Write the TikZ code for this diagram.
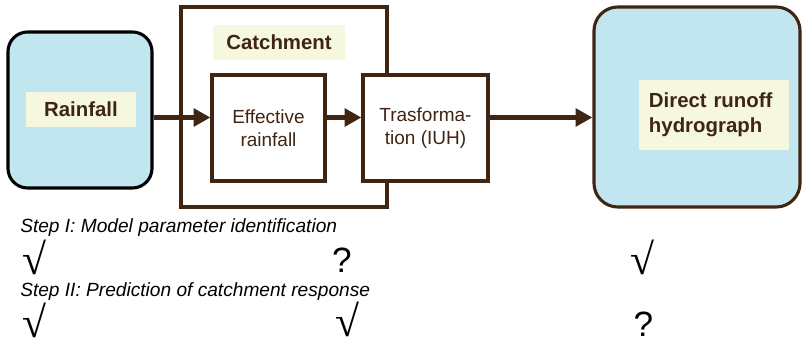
\documentclass[tikz,border=0pt]{standalone}
\usepackage{fontspec}
\setmainfont{Liberation Sans}
\newfontfamily\radicalfont{Liberation Serif}
\definecolor{RunBrown}{HTML}{3F2512}
\definecolor{RunBlue}{HTML}{C2E6EF}
\definecolor{RunCream}{HTML}{F5F7DF}
\usetikzlibrary{arrows.meta, positioning}

\begin{document}
\begin{tikzpicture}[x=0.025cm, y=-0.025cm,
   store/.style={draw=RunBrown, line width=2.2pt, fill=RunBlue, inner sep=0pt},
   block/.style={draw=RunBrown, line width=2.2pt, fill=white, inner sep=0pt,
      text=RunBrown, align=center, font=\fontsize{13.5}{16.5}\selectfont},
   tag/.style={fill=RunCream, inner sep=0pt, text=RunBrown,
      font=\bfseries\fontsize{14.5}{17.5}\selectfont},
   flow/.style={RunBrown, line width=3.6pt, -{Triangle[length=12pt, width=12.5pt]}},
   stepnote/.style={anchor=base west, inner sep=0pt, font=\itshape\fontsize{13.6}{16}\selectfont},
   yes/.style={inner sep=0pt, font=\radicalfont\fontsize{31}{33}\selectfont},
   unknown/.style={inner sep=0pt, font=\fontsize{25}{27}\selectfont}]
            \useasboundingbox (0,0) rectangle (802,339);
            % Input and output stores
            \node[store, draw=black, rounded corners=14pt, minimum width=3.6cm,
               minimum height=3.9cm] (rain) at (80,110) {};
            \node[store, rounded corners=17pt, minimum width=5.15cm,
               minimum height=5cm] (runoff) at (697,107) {};
            % Catchment frame with its two stages
            \node[block, minimum width=5.15cm, minimum height=5cm] (catch) at (284,107) {};
            \node[block, minimum width=2.825cm, minimum height=2.65cm] (eff) at (268.5,128)
               {Effective\\rainfall};
            \node[block, minimum width=3.125cm, minimum height=2.65cm] (iuh) at (425.5,128)
               {Trasforma-\\tion (IUH)};
            % Labels
            \node[tag, minimum width=2.75cm, minimum height=0.875cm] (raintag) at (81,109.5) {Rainfall};
            \node[tag, minimum width=3.3cm, minimum height=0.875cm] (catchtag) at (279,42.5) {Catchment};
            \node[tag, minimum width=3.75cm, minimum height=1.75cm, align=left,
               text width=3.25cm] (runofftag) at (714,115) {Direct runoff\\hydrograph};
            % Flow arrows
            \coordinate (flowline) at (0,117.5);
            \draw[flow] (rain.east |- flowline) -- (eff.west |- flowline);
            \draw[flow] (eff.east |- flowline) -- (iuh.west |- flowline);
            \draw[flow] (iuh.east |- flowline) -- (runoff.west |- flowline);
            % Step I
            \node[stepnote] (stepI) at (20,233) {Step I: Model parameter identification};
            \node[yes] (rainI) at (34,257.5) {√};
            \node[unknown] (catchI) at (342,260) {?};
            \node[yes] (runoffI) at (642,257) {√};
            % Step II
            \node[stepnote] (stepII) at (20,297) {Step II: Prediction of catchment response};
            \node[yes] (rainII) at (34,320) {√};
            \node[yes] (catchII) at (347,319) {√};
            \node[unknown] (runoffII) at (643.5,324.5) {?};
\end{tikzpicture}
\end{document}
